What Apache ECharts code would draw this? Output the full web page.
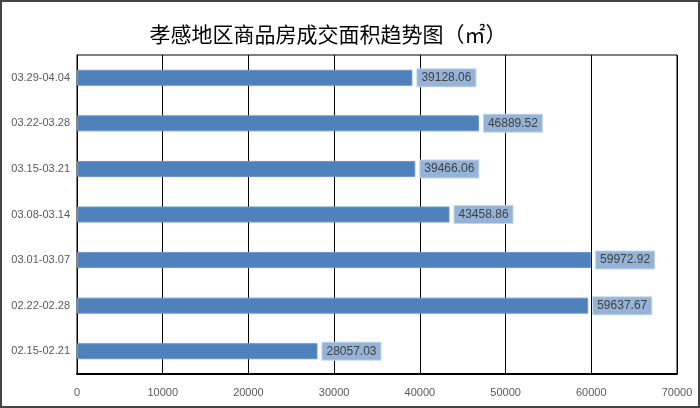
<!DOCTYPE html>
<html><head><meta charset="utf-8">
<script src="https://cdn.jsdelivr.net/npm/echarts@6/dist/echarts.min.js"></script>
<style>html,body{margin:0;padding:0;background:#fff}#c{width:700px;height:408px}</style>
</head><body><div id="c"></div>
<script>
var titleText = '孝感地区商品房成交面积趋势图（㎡）';
var categories = ['02.15-02.21','02.22-02.28','03.01-03.07','03.08-03.14','03.15-03.21','03.22-03.28','03.29-04.04'];
var values = [28057.03, 59637.67, 59972.92, 43458.86, 39466.06, 46889.52, 39128.06];
var xTicks = [0,10000,20000,30000,40000,50000,60000,70000];

var chart = echarts.init(document.getElementById('c'));
chart.setOption({
  animation: false,
  title: {text: titleText, left: 323, top: 19, textAlign: 'center',
    textStyle: {fontFamily: 'Noto Sans CJK SC', fontSize: 21, fontWeight: 'normal', color: '#000'}},
  graphic: [{type: 'rect', shape: {x: 1, y: 1, width: 698, height: 406},
    style: {fill: 'none', stroke: '#444', lineWidth: 2}, silent: true}],
  grid: {left: 77, right: 23, top: 55, bottom: 34, show: true, borderColor: '#000', borderWidth: 1},
  xAxis: {type: 'value', min: xTicks[0], max: xTicks[xTicks.length-1], interval: 10000,
    axisLine: {show: true, lineStyle: {color: '#000', width: 2}},
    axisTick: {show: false},
    splitLine: {show: true, lineStyle: {color: '#000', width: 1}},
    axisLabel: {color: '#595959', fontSize: 11, margin: 13, fontFamily: 'Liberation Sans',
      formatter: function(v){ return String(v); }}},
  yAxis: {type: 'category', data: categories,
    axisLine: {show: true, lineStyle: {color: '#000', width: 1}},
    axisTick: {show: false},
    axisLabel: {color: '#595959', fontSize: 11, margin: 7, fontFamily: 'Liberation Sans'}},
  series: [{type: 'bar', data: values, barWidth: 16,
    itemStyle: {color: '#4F81BD', borderColor: '#6a96cc', borderWidth: 1},
    label: {show: true, position: 'right', distance: 5, color: '#404040', fontSize: 12,
      fontFamily: 'Liberation Sans', backgroundColor: '#95B3D7', borderColor: '#c5d6ea', borderWidth: 1,
      padding: [3, 4, 2, 4], formatter: function(p){ return p.value.toFixed(2); }}}]
});
</script></body></html>
